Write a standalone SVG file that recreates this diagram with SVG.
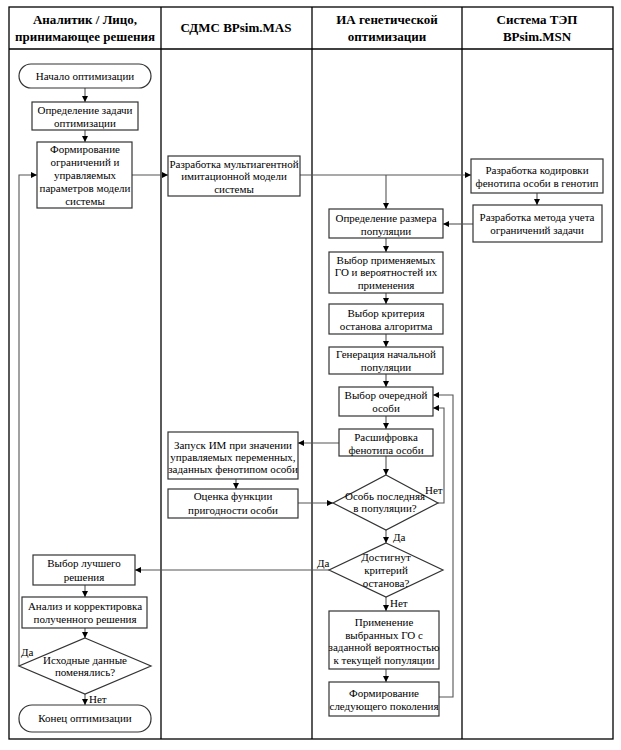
<svg xmlns="http://www.w3.org/2000/svg" width="621" height="750" viewBox="0 0 621 750">
<defs>
<marker id="ah" markerWidth="7" markerHeight="7" refX="6" refY="3" orient="auto" markerUnits="userSpaceOnUse">
<path d="M0,0 L6,3 L0,6 Z" fill="#000"/>
</marker>
<style>
.frame{fill:none;stroke:#000;stroke-width:1.3}
.box{fill:#fff;stroke:#333;stroke-width:1.2}
.con{fill:none;stroke:#555;stroke-width:1.1;marker-end:url(#ah)}
text{font-family:"Liberation Serif","Times New Roman","DejaVu Serif",serif;font-size:11px;fill:#000;text-anchor:middle}
.hd{font-size:13px;font-weight:bold}
.lbl{text-anchor:start}
</style>
</defs>
<rect width="621" height="750" fill="#fff"/>
<g id="lanes">
<rect class="frame" x="9" y="7" width="604" height="732"/>
<line class="frame" x1="9" y1="49" x2="613" y2="49"/>
<line class="frame" x1="161" y1="7" x2="161" y2="739"/>
<line class="frame" x1="312" y1="7" x2="312" y2="739"/>
<line class="frame" x1="462" y1="7" x2="462" y2="739"/>
<text class="hd" x="85" y="24">Аналитик / Лицо,</text>
<text class="hd" x="85" y="41">принимающее решения</text>
<text class="hd" x="236" y="32">СДМС BPsim.MAS</text>
<text class="hd" x="387" y="24">ИА генетической</text>
<text class="hd" x="387" y="41">оптимизации</text>
<text class="hd" x="537" y="24">Система ТЭП</text>
<text class="hd" x="537" y="41">BPsim.MSN</text>
</g>
<g id="connectors">
<path class="con" d="M85,88 V102"/>
<path class="con" d="M85,130 V142"/>
<path class="con" d="M132,175 H168"/>
<path class="con" d="M300,175 H471"/>
<path class="con" d="M386,175 V209"/>
<path class="con" d="M537,193 V205"/>
<path class="con" d="M473,224 H443"/>
<path class="con" d="M386,238 V252"/>
<path class="con" d="M386,293 V304"/>
<path class="con" d="M386,334 V347"/>
<path class="con" d="M386,374 V387"/>
<path class="con" d="M386,416 V429"/>
<path class="con" d="M339,443 H298"/>
<path class="con" d="M236,479 V489"/>
<path class="con" d="M298,503 H333"/>
<path class="con" d="M386,456 V475"/>
<path class="con" d="M438,503 H444 V408 H433"/>
<path class="con" d="M386,530 V543"/>
<path class="con" d="M329,570 H135"/>
<path class="con" d="M386,597 V611"/>
<path class="con" d="M386,669 V682"/>
<path class="con" d="M439,697 H453 V395 H433"/>
<path class="con" d="M85,585 V597"/>
<path class="con" d="M85,628 V638"/>
<path class="con" d="M85,694 V705"/>
<path class="con" d="M19,666 V175 H37"/>
<text class="lbl" x="425" y="494">Нет</text>
<text class="lbl" x="393" y="541">Да</text>
<text class="lbl" x="317" y="567">Да</text>
<text class="lbl" x="390" y="607">Нет</text>
<text class="lbl" x="21" y="656">Да</text>
<text class="lbl" x="89" y="703">Нет</text>
</g>
<g id="start">
<rect class="box" x="19" y="64" width="132" height="24" rx="12"/>
<text x="85" y="80">Начало оптимизации</text>
</g>
<g id="task">
<rect class="box" x="32" y="102" width="106" height="28"/>
<text x="85" y="114">Определение задачи</text>
<text x="85" y="127">оптимизации</text>
</g>
<g id="constraints">
<rect class="box" x="37" y="142" width="95" height="66"/>
<text x="85" y="153">Формирование</text>
<text x="85" y="166">ограничений и</text>
<text x="85" y="179">управляемых</text>
<text x="85" y="192">параметров модели</text>
<text x="85" y="205">системы</text>
</g>
<g id="mas">
<rect class="box" x="168" y="156" width="132" height="40"/>
<text x="234" y="168">Разработка мультиагентной</text>
<text x="234" y="180">имитационной модели</text>
<text x="234" y="193">системы</text>
</g>
<g id="encoding">
<rect class="box" x="471" y="159" width="132" height="34"/>
<text x="537" y="174">Разработка кодировки</text>
<text x="537" y="187">фенотипа особи в генотип</text>
</g>
<g id="constrmethod">
<rect class="box" x="473" y="205" width="129" height="37"/>
<text x="537" y="221">Разработка метода учета</text>
<text x="537" y="234">ограничений задачи</text>
</g>
<g id="popsize">
<rect class="box" x="329" y="209" width="114" height="29"/>
<text x="386" y="222">Определение размера</text>
<text x="386" y="235">популяции</text>
</g>
<g id="geneops">
<rect class="box" x="329" y="252" width="114" height="41"/>
<text x="386" y="264">Выбор применяемых</text>
<text x="386" y="276">ГО и вероятностей их</text>
<text x="386" y="289">применения</text>
</g>
<g id="stopcrit">
<rect class="box" x="329" y="304" width="114" height="30"/>
<text x="386" y="317">Выбор критерия</text>
<text x="386" y="330">останова алгоритма</text>
</g>
<g id="initpop">
<rect class="box" x="329" y="347" width="114" height="27"/>
<text x="386" y="358">Генерация начальной</text>
<text x="386" y="371">популяции</text>
</g>
<g id="nextind">
<rect class="box" x="339" y="387" width="94" height="29"/>
<text x="386" y="399">Выбор очередной</text>
<text x="386" y="412">особи</text>
</g>
<g id="decode">
<rect class="box" x="339" y="429" width="94" height="27"/>
<text x="386" y="441">Расшифровка</text>
<text x="386" y="454">фенотипа особи</text>
</g>
<g id="runsim">
<rect class="box" x="168" y="432" width="130" height="47"/>
<text x="233" y="449">Запуск ИМ при значении</text>
<text x="233" y="461">управляемых переменных,</text>
<text x="233" y="473">заданных фенотипом особи</text>
</g>
<g id="fitness">
<rect class="box" x="168" y="489" width="130" height="29"/>
<text x="233" y="500">Оценка функции</text>
<text x="233" y="514">пригодности особи</text>
</g>
<g id="lastind">
<polygon class="box" points="386,475 438,503 386,530 333,503"/>
<text x="385" y="500">Особь последняя</text>
<text x="385" y="512">в популяции?</text>
</g>
<g id="stopreached">
<polygon class="box" points="386,543 443,570 386,597 329,570"/>
<text x="386" y="561">Достигнут</text>
<text x="386" y="574">критерий</text>
<text x="386" y="587">останова?</text>
</g>
<g id="applyops">
<rect class="box" x="329" y="611" width="110" height="58"/>
<text x="384" y="626">Применение</text>
<text x="384" y="639">выбранных ГО с</text>
<text x="384" y="651">заданной вероятностью</text>
<text x="384" y="664">к текущей популяции</text>
</g>
<g id="nextgen">
<rect class="box" x="329" y="682" width="110" height="34"/>
<text x="384" y="697">Формирование</text>
<text x="384" y="710">следующего поколения</text>
</g>
<g id="best">
<rect class="box" x="33" y="555" width="102" height="30"/>
<text x="84" y="567">Выбор лучшего</text>
<text x="84" y="581">решения</text>
</g>
<g id="analysis">
<rect class="box" x="22" y="597" width="125" height="31"/>
<text x="85" y="610">Анализ и корректировка</text>
<text x="85" y="623">полученного решения</text>
</g>
<g id="changed">
<polygon class="box" points="85,638 151,666 85,694 19,666"/>
<text x="85" y="664">Исходные данные</text>
<text x="85" y="676">поменялись?</text>
</g>
<g id="end">
<rect class="box" x="19" y="705" width="132" height="27" rx="13"/>
<text x="85" y="722">Конец оптимизации</text>
</g>
</svg>
